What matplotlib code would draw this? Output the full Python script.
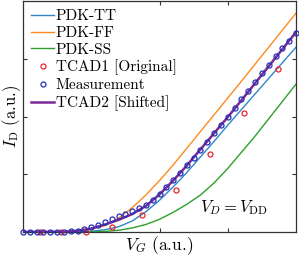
import matplotlib
matplotlib.use("Agg")
import matplotlib.pyplot as plt

plt.rcParams['font.family'] = ['cmr10', 'DejaVu Serif']
plt.rcParams['mathtext.fontset'] = 'cm'
plt.rcParams['axes.unicode_minus'] = False

# PDK-TT
tt_x = [0.0, 0.2, 0.25, 0.3, 0.35, 0.4, 0.45, 0.5, 0.55, 0.6, 0.65, 0.7, 0.75, 0.8, 0.9, 1.0]
tt_y = [0.0, 0.0, 0.012, 0.04, 0.09, 0.19, 0.35, 0.55, 0.78, 1.03, 1.30, 1.57, 1.85, 2.12, 2.66, 3.20]
# PDK-FF
ff_x = [0.0, 0.15, 0.2, 0.25, 0.3, 0.35, 0.4, 0.45, 0.5, 0.55, 0.6, 0.65, 0.7, 0.8, 0.9, 1.0]
ff_y = [0.0, 0.0, 0.015, 0.05, 0.11, 0.24, 0.42, 0.64, 0.89, 1.16, 1.45, 1.74, 2.03, 2.61, 3.20, 3.79]
# PDK-SS
ss_x = [0.0, 0.25, 0.3, 0.35, 0.4, 0.45, 0.5, 0.55, 0.6, 0.65, 0.7, 0.75, 0.8, 0.85, 0.9, 0.95, 1.0]
ss_y = [0.0, 0.0, 0.01, 0.03, 0.07, 0.13, 0.22, 0.34, 0.48, 0.64, 0.85, 1.10, 1.38, 1.66, 1.96, 2.26, 2.56]
# TCAD1 [Original]
tcad1_x = [0.0625, 0.14, 0.23, 0.325, 0.435, 0.56, 0.685, 0.81, 0.935]
tcad1_y = [0.0, 0.0, 0.0, 0.078, 0.286, 0.732, 1.342, 2.055, 2.822]
# Measurement
meas_x = [i * 0.025 for i in range(41)]
meas_y = [0, 0, 0, 0, 0, 0, 0, 0.01, 0.023, 0.052, 0.087, 0.127, 0.173, 0.225, 0.27,
          0.31, 0.36, 0.41, 0.47, 0.56, 0.658, 0.775, 0.895, 1.030, 1.160, 1.285,
          1.420, 1.565, 1.710, 1.853, 2.0, 2.145, 2.295, 2.445, 2.6, 2.75, 2.9, 3.04,
          3.18, 3.31, 3.45]
# TCAD2 [Shifted]
tcad2_x = [0.0, 0.15, 0.2, 0.25, 0.3, 0.35, 0.4, 0.45, 0.5, 0.55, 0.6, 0.65, 0.7, 0.75, 0.8, 0.9, 1.0]
tcad2_y = [0.0, 0.005, 0.02, 0.06, 0.13, 0.21, 0.31, 0.45, 0.65, 0.89, 1.15, 1.43, 1.71, 1.99, 2.28, 2.87, 3.46]

labels = ['PDK-TT', 'PDK-FF', 'PDK-SS', 'TCAD1 [Original]', 'Measurement', 'TCAD2 [Shifted]']

fig = plt.figure(figsize=(2.99, 2.56), dpi=100)
ax = fig.add_axes([23/299, 24/256, 273/299, 231/256])

ax.plot(tt_x, tt_y, color='#2f86c8', lw=1.0, label=labels[0], zorder=2)
ax.plot(ff_x, ff_y, color='#ff8a1e', lw=1.0, label=labels[1], zorder=2)
ax.plot(ss_x, ss_y, color='#2ca02c', lw=1.0, label=labels[2], zorder=2)
ax.plot(tcad1_x, tcad1_y, ls='none', marker='o', ms=3.6, mfc='none', mec='#e8252a',
        mew=0.9, label=labels[3], zorder=4, clip_on=False)
ax.plot(meas_x, meas_y, ls='none', marker='o', ms=3.6, mfc='none', mec='#2030b8',
        mew=0.9, label=labels[4], zorder=4, clip_on=False)
ax.plot(tcad2_x, tcad2_y, color='#7a2a96', lw=1.8, label=labels[5], zorder=3)

ax.set_xlim(0, 1)
ax.set_ylim(0, 4)
ax.set_xticks([0.5, 0.75])
ax.set_yticks([1, 2, 3])
ax.tick_params(direction='in', length=3, width=0.8, top=True, right=True,
               labelbottom=False, labelleft=False, colors='#333333')
for s in ax.spines.values():
    s.set_color('#333333')
    s.set_linewidth(0.9)

ax.set_xlabel(r'$V_G$ (a.u.)', fontsize=12.5, labelpad=2)
ax.set_ylabel(r'$I_{\rm D}$ (a.u.)', fontsize=12, labelpad=0)

ax.text(0.648, 0.104, r'$V_D = V_{\rm DD}$', transform=ax.transAxes, fontsize=12,
        ha='left', va='center')

ax.legend(loc='upper left', bbox_to_anchor=(0.0, 1.0), frameon=False, fontsize=11,
          handlelength=1.5, handletextpad=0.1, labelspacing=0.2, borderaxespad=0.25,
          borderpad=0.3)

fig.savefig('out.png', dpi=100)
